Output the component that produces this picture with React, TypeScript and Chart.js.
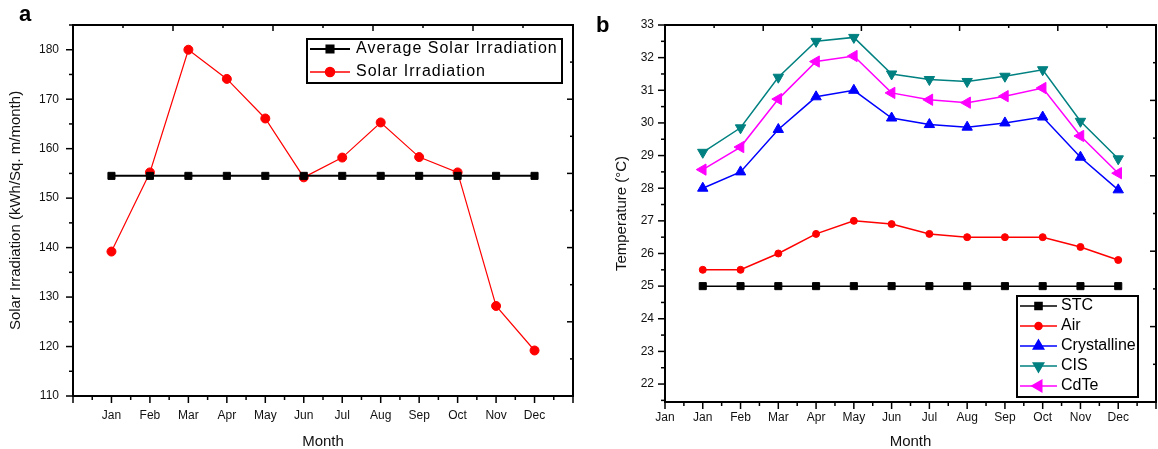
import React, { useEffect, useRef } from 'react';
import { Chart, registerables } from 'chart.js';
import { drawPoint } from 'chart.js/helpers';

Chart.register(...registerables);

// ---------- data ----------
const monthPositions = [1, 2, 3, 4, 5, 6, 7, 8, 9, 10, 11, 12];
const tickLabelsA = ['', 'Jan', 'Feb', 'Mar', 'Apr', 'May', 'Jun', 'Jul', 'Aug', 'Sep', 'Oct', 'Nov', 'Dec', ''];
const tickLabelsB = ['Jan', 'Jan', 'Feb', 'Mar', 'Apr', 'May', 'Jun', 'Jul', 'Aug', 'Sep', 'Oct', 'Nov', 'Dec', ''];
const xTickValues = [0, 1, 2, 3, 4, 5, 6, 7, 8, 9, 10, 11, 12, 13];

const avgSolarIrradiation = [154.5, 154.5, 154.5, 154.5, 154.5, 154.5, 154.5, 154.5, 154.5, 154.5, 154.5, 154.5];
const solarIrradiation = [139.2, 155.2, 180.0, 174.1, 166.1, 154.2, 158.2, 165.3, 158.3, 155.2, 128.2, 119.2];
const yTicksA = [110, 120, 130, 140, 150, 160, 170, 180];

const stcTemp = [25, 25, 25, 25, 25, 25, 25, 25, 25, 25, 25, 25];
const airTemp = [25.5, 25.5, 26.0, 26.6, 27.0, 26.9, 26.6, 26.5, 26.5, 26.5, 26.2, 25.8];
const crystallineTemp = [28.0, 28.5, 29.8, 30.8, 31.0, 30.15, 29.95, 29.87, 30.0, 30.18, 28.95, 27.95];
const cisTemp = [29.1, 29.85, 31.4, 32.5, 32.62, 31.5, 31.33, 31.27, 31.43, 31.63, 30.05, 28.9];
const cdteTemp = [28.57, 29.26, 30.73, 31.88, 32.05, 30.92, 30.71, 30.62, 30.82, 31.07, 29.6, 28.46];
const yTicksB = [22, 23, 24, 25, 26, 27, 28, 29, 30, 31, 32, 33];

const pts = (ys: number[]) => ys.map((y, i) => ({ x: monthPositions[i], y }));

const FONT = "'Liberation Sans', Arial, sans-serif";

// ---------- plugins ----------
const framePlugin = {
  id: 'frame',
  afterDatasetsDraw(chart: any, _args: any, o: any) {
    const { ctx, chartArea: a, scales } = chart;
    ctx.save();
    ctx.strokeStyle = '#000';
    ctx.lineWidth = 2;
    ctx.strokeRect(a.left, a.top, a.right - a.left, a.bottom - a.top);
    ctx.lineWidth = 1.5;
    const normals: any = { bottom: [0, 1], top: [0, -1], left: [-1, 0], right: [1, 0] };
    (o.specs || []).forEach((s: any) => {
      const sc = scales[s.id];
      if (!sc) return;
      const [nx, ny] = normals[s.side];
      const sign = s.inward ? -1 : 1;
      const start = Math.ceil(sc.min / s.minor - 1e-9) * s.minor;
      for (let v = start; v <= sc.max + 1e-9; v += s.minor) {
        const r = v / s.major;
        const isMajor = Math.abs(r - Math.round(r)) < 1e-6;
        const len = isMajor ? s.majLen : s.minLen;
        const p = sc.getPixelForValue(v);
        let x0, y0;
        if (s.side === 'bottom') { x0 = p; y0 = a.bottom; }
        else if (s.side === 'top') { x0 = p; y0 = a.top; }
        else if (s.side === 'left') { x0 = a.left; y0 = p; }
        else { x0 = a.right; y0 = p; }
        ctx.beginPath();
        ctx.moveTo(x0, y0);
        ctx.lineTo(x0 + nx * len * sign, y0 + ny * len * sign);
        ctx.stroke();
      }
    });
    ctx.restore();
  },
};

const boxLegendPlugin = {
  id: 'boxLegend',
  afterDraw(chart: any, _args: any, o: any) {
    const { ctx } = chart;
    ctx.save();
    ctx.fillStyle = '#fff';
    ctx.fillRect(o.x, o.y, o.w, o.h);
    ctx.strokeStyle = '#000';
    ctx.lineWidth = 2;
    ctx.strokeRect(o.x, o.y, o.w, o.h);
    chart.data.datasets.forEach((ds: any, i: number) => {
      const y = o.y + o.firstRow + i * o.rowGap;
      ctx.strokeStyle = ds.borderColor;
      ctx.lineWidth = Math.max(ds.borderWidth, 1.5);
      ctx.beginPath();
      ctx.moveTo(o.x + o.lineStart, y);
      ctx.lineTo(o.x + o.lineEnd, y);
      ctx.stroke();
      ctx.fillStyle = ds.pointBackgroundColor;
      ctx.strokeStyle = ds.pointBorderColor;
      drawPoint(ctx, { pointStyle: ds.pointStyle, rotation: ds.pointRotation || 0, radius: ds.pointRadius, borderWidth: 1 }, o.x + (o.lineStart + o.lineEnd) / 2, y);
      ctx.fillStyle = '#000';
      ctx.font = o.font;
      if (o.letterSpacing) ctx.letterSpacing = o.letterSpacing;
      ctx.textBaseline = 'middle';
      ctx.textAlign = 'left';
      ctx.fillText(ds.label, o.x + o.textX, y);
    });
    ctx.restore();
  },
};

function ds(label: string, data: number[], color: string, style: string, radius: number, width: number, rotation = 0) {
  return {
    label,
    data: pts(data),
    borderColor: color,
    backgroundColor: color,
    pointBackgroundColor: color,
    pointBorderColor: color,
    borderWidth: width,
    pointStyle: style,
    pointRadius: radius,
    pointRotation: rotation,
    pointBorderWidth: 1,
    tension: 0,
  };
}

function makeOptions(cfg: any) {
  return {
    responsive: false,
    animation: false,
    events: [],
    layout: { autoPadding: false, padding: { top: 25, right: cfg.padRight, left: 0, bottom: 0 } },
    plugins: {
      legend: { display: false },
      tooltip: { enabled: false },
      frame: {
        specs: [
          { id: 'x', side: 'bottom', major: 1, minor: 0.5, majLen: 7, minLen: 4, inward: false },
          { id: 'y', side: 'left', major: cfg.yMajor, minor: cfg.yMajor / 2, majLen: 7, minLen: 4, inward: false },
          { id: 'x2', side: 'top', major: 1, minor: 0.5, majLen: 6, minLen: 3, inward: true },
          { id: 'y2', side: 'right', major: 1, minor: 0.5, majLen: 6, minLen: 3, inward: true },
        ],
      },
      boxLegend: cfg.legend,
    },
    scales: {
      x: {
        type: 'linear',
        position: 'bottom',
        min: 0,
        max: 13,
        afterBuildTicks: (s: any) => { s.ticks = xTickValues.map((v) => ({ value: v })); },
        afterFit: (s: any) => { s.height = cfg.xHeight; s.paddingLeft = 0; s.paddingRight = 0; },
        grid: { display: false, drawTicks: true, tickLength: cfg.xPad },
        border: { display: false },
        ticks: {
          autoSkip: false,
          maxRotation: 0,
          padding: 0,
          color: '#111',
          font: { family: FONT, size: 12 },
          callback: (v: number) => cfg.xLabels[Math.round(v)] ?? '',
        },
        title: { display: true, text: 'Month', color: '#111', font: { family: FONT, size: 15, lineHeight: 1 }, padding: { top: 0, bottom: 0 } },
      },
      y: {
        type: 'linear',
        position: 'left',
        min: cfg.yMin,
        max: cfg.yMax,
        afterBuildTicks: (s: any) => { s.ticks = cfg.yTicks.map((v: number) => ({ value: v })); },
        afterFit: (s: any) => { s.width = cfg.yWidth; s.paddingTop = 0; s.paddingBottom = 0; },
        grid: { display: false, drawTicks: true, tickLength: cfg.yPad },
        border: { display: false },
        ticks: { padding: 0, color: '#111', font: { family: FONT, size: 12 } },
        title: { display: true, text: cfg.yTitle, color: '#111', font: { family: FONT, size: 15, lineHeight: 1 }, padding: { top: cfg.yTitlePad, bottom: 0 } },
      },
      x2: { type: 'linear', position: 'top', display: false, min: 0, max: 5 },
      y2: { type: 'linear', position: 'right', display: false, min: 0, max: 5 },
    },
  };
}

function ChartCanvas({ config, width, height }: any) {
  const ref = useRef<HTMLCanvasElement | null>(null);
  useEffect(() => {
    if (!ref.current) return;
    const chart = new Chart(ref.current, config);
    return () => chart.destroy();
  }, []);
  return <canvas ref={ref} width={width} height={height} style={{ display: 'block', width, height }} />;
}

export default function App() {
  const configA: any = {
    type: 'line',
    data: {
      datasets: [
        ds('Average Solar Irradiation', avgSolarIrradiation, '#000000', 'rect', 5, 2),
        ds('Solar Irradiation', solarIrradiation, '#ff0000', 'circle', 4.5, 1.2),
      ],
    },
    options: makeOptions({
      padRight: 7,
      xHeight: 53,
      xPad: 12,
      xLabels: tickLabelsA,
      yMin: 110,
      yMax: 185,
      yMajor: 10,
      yTicks: yTicksA,
      yWidth: 73,
      yPad: 14,
      yTitle: 'Solar Irradiation (kWh/Sq. m/month)',
      yTitlePad: 8.5,
      legend: { x: 307, y: 39, w: 255, h: 44, firstRow: 10, rowGap: 23, lineStart: 3, lineEnd: 43, textX: 49, font: `16px ${FONT}`, letterSpacing: '1px' },
    }),
    plugins: [framePlugin, boxLegendPlugin],
  };

  const configB: any = {
    type: 'line',
    data: {
      datasets: [
        ds('STC', stcTemp, '#000000', 'rect', 5, 1.5),
        ds('Air', airTemp, '#ff0000', 'circle', 3.5, 1.5),
        ds('Crystalline', crystallineTemp, '#0000ff', 'triangle', 6, 1.5),
        ds('CIS', cisTemp, '#008080', 'triangle', 6, 1.5, 180),
        ds('CdTe', cdteTemp, '#ff00ff', 'triangle', 6.5, 1.5, 270),
      ],
    },
    options: makeOptions({
      padRight: 2,
      xHeight: 47,
      xPad: 8,
      xLabels: tickLabelsB,
      yMin: 21.45,
      yMax: 33,
      yMajor: 1,
      yTicks: yTicksB,
      yWidth: 85,
      yPad: 11,
      yTitle: 'Temperature (°C)',
      yTitlePad: 34.5,
      legend: { x: 437, y: 296, w: 121, h: 101, firstRow: 10, rowGap: 20, lineStart: 3, lineEnd: 40, textX: 44, font: `16px ${FONT}` },
    }),
    plugins: [framePlugin, boxLegendPlugin],
  };

  const panelLabel: any = { position: 'absolute', fontFamily: FONT, fontWeight: 'bold', fontSize: 22, lineHeight: '22px', color: '#000' };

  return (
    <div style={{ position: 'absolute', left: 0, top: 0, width: 1158, height: 449, background: '#fff', overflow: 'hidden' }}>
      <div style={{ position: 'absolute', left: 0, top: 0 }}>
        <ChartCanvas config={configA} width={580} height={449} />
      </div>
      <div style={{ position: 'absolute', left: 580, top: 0 }}>
        <ChartCanvas config={configB} width={578} height={449} />
      </div>
      <div style={{ ...panelLabel, left: 19, top: 3 }}>a</div>
      <div style={{ ...panelLabel, left: 596, top: 14 }}>b</div>
    </div>
  );
}
